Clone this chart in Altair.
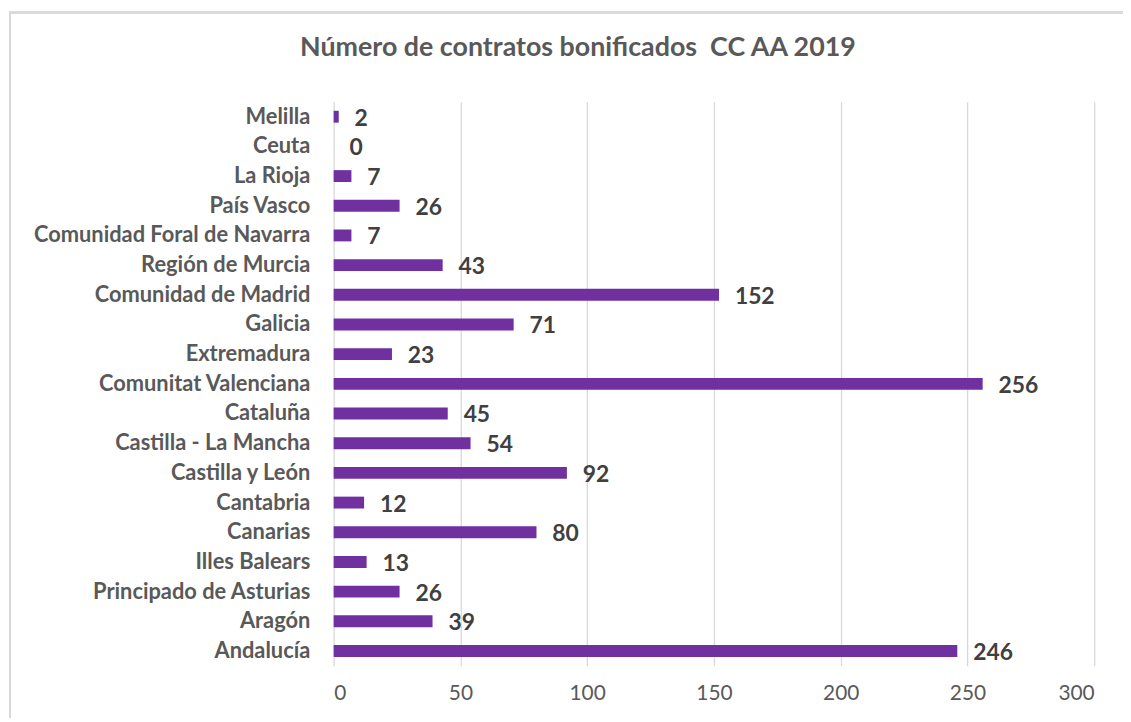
import altair as alt
import pandas as pd

regions = ["Melilla", "Ceuta", "La Rioja\u00a0", "País Vasco", "Comunidad Foral de Navarra",
           "Región de Murcia", "Comunidad de Madrid", "Galicia", "Extremadura",
           "Comunitat Valenciana", "Cataluña", "Castilla - La Mancha", "Castilla y León",
           "Cantabria", "Canarias", "Illes Balears", "Principado de Asturias", "Aragón\u00a0",
           "Andalucía"]
values = [2, 0, 7, 26, 7, 43, 152, 71, 23, 256, 45, 54, 92, 12, 80, 13, 26, 39, 246]
x_ticks = [0, 50, 100, 150, 200, 250, 300]

df = pd.DataFrame({"region": regions, "value": values})

FONT = "Lato"
x_enc = alt.X("value:Q", scale=alt.Scale(domain=[0, 300], nice=False),
              axis=alt.Axis(values=x_ticks, title=None, domain=False, ticks=False,
                            grid=True, gridColor="#d9d9d9", gridWidth=1.3,
                            labelFont=FONT, labelFontSize=21, labelColor="#595959",
                            labelPadding=17))
y_enc = alt.Y("region:N", sort=regions,
              scale=alt.Scale(paddingInner=0.6, paddingOuter=0.3),
              axis=alt.Axis(title=None, domain=False, ticks=False, grid=False,
                            labelFont=FONT, labelFontSize=22, labelFontWeight="bold",
                            labelColor="#595959", labelPadding=24, labelLimit=400))

border = alt.Chart(df).mark_rect(fill="transparent", stroke="#d9d9d9", strokeWidth=1.5).encode(
    x=alt.value(-326), x2=alt.value(801), y=alt.value(-90), y2=alt.value(625))

bars = alt.Chart(df).mark_bar(color="#7030A0").encode(x=x_enc, y=y_enc)

labels = alt.Chart(df).mark_text(align="left", baseline="middle", dx=16, dy=2,
                                  font=FONT, fontSize=23, fontWeight="bold",
                                  color="#404040").encode(
    x="value:Q", y=alt.Y("region:N", sort=regions), text="value:Q")

chart = alt.layer(border, bars, labels).properties(
    width=766, height=568,
    autosize=alt.AutoSizeParams(type="none"),
    padding={"left": 328, "top": 92, "right": 29, "bottom": 50},
    title=alt.TitleParams("Número de contratos bonificados \u00a0CC AA 2019",
                          font=FONT, fontSize=27, fontWeight="bold", color="#595959",
                          anchor="middle", frame="group", dx=-137, offset=-51),
).configure_view(stroke=None)

chart.save("out.html", embed_options={"renderer": "svg", "actions": False})
